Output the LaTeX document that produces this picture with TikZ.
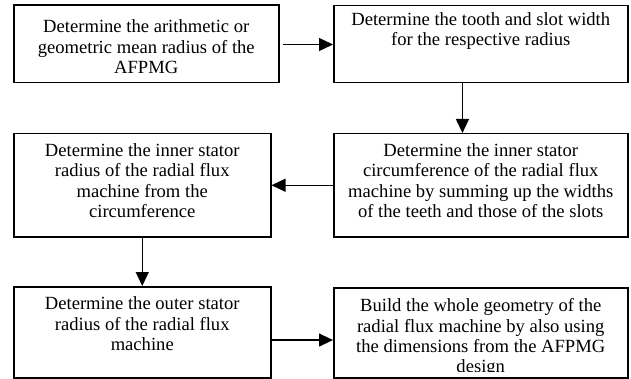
\documentclass[tikz,border=0pt]{standalone}
\usepackage{fontspec}
\setmainfont{Liberation Serif}
\usetikzlibrary{arrows.meta,calc}
\begin{document}
\begin{tikzpicture}[x=1pt,y=-1pt,
  box/.style={draw,line width=1.5pt,inner sep=0pt,anchor=north west},
  txt/.style={anchor=north,inner sep=0pt,align=center,font=\fontsize{18.6}{20.4}\selectfont},
  arr/.style={line width=1.3pt,-{Triangle[length=14pt,width=13pt]}}]
\useasboundingbox (0,0) rectangle (631,379);
\fill[white] (0,0) rectangle (631,379);
\node[box,minimum width=265pt,minimum height=77.5pt] (b1) at (13,4.5) {};
\node[box,minimum width=294pt,minimum height=77pt] (b2) at (333,5) {};
\node[box,minimum width=257pt,minimum height=103pt] (b3) at (13,133) {};
\node[box,minimum width=294pt,minimum height=103pt] (b4) at (333,133) {};
\node[box,minimum width=257pt,minimum height=91pt] (b5) at (13,286) {};
\node[box,minimum width=294pt,minimum height=90pt] (b6) at (333,287) {};
\node[txt] (t1) at ([yshift=-15pt]b1.north) {Determine the arithmetic or\\geometric mean radius of the\\AFPMG};
\node[txt] (t2) at ([yshift=-7.2pt]b2.north) {Determine the tooth and slot width\\for the respective radius};
\node[txt] (t3) at ([yshift=-10.2pt]b3.north) {Determine the inner stator\\radius of the radial flux\\machine from the\\circumference};
\node[txt] (t4) at ([yshift=-10.2pt]b4.north) {Determine the inner stator\\circumference of the radial flux\\machine by summing up the widths\\of the teeth and those of the slots};
\node[txt] (t5) at ([yshift=-10.5pt]b5.north) {Determine the outer stator\\radius of the radial flux\\machine};
\begin{scope}
\clip (334,288) rectangle (626,371.5);
\node[txt] (t6) at ([yshift=-11.5pt]b6.north) {Build the whole geometry of the\\radial flux machine by also using\\the dimensions from the AFPMG\\design};
\end{scope}
\draw[arr] ([xshift=3.5pt,yshift=-0.5pt]b1.east) -- ([yshift=-0.5pt]b1.east -| b2.west);
\draw[arr] ([xshift=-18.3pt]b2.south) -- ([xshift=-18.3pt]b4.north);
\draw[arr] (b4.west) -- (b3.east);
\draw[arr] (b3.south) -- (b5.north);
\draw[arr] ([yshift=-7.8pt]b5.east) -- ([yshift=-7.8pt]b5.east -| b6.west);
\end{tikzpicture}
\end{document}
